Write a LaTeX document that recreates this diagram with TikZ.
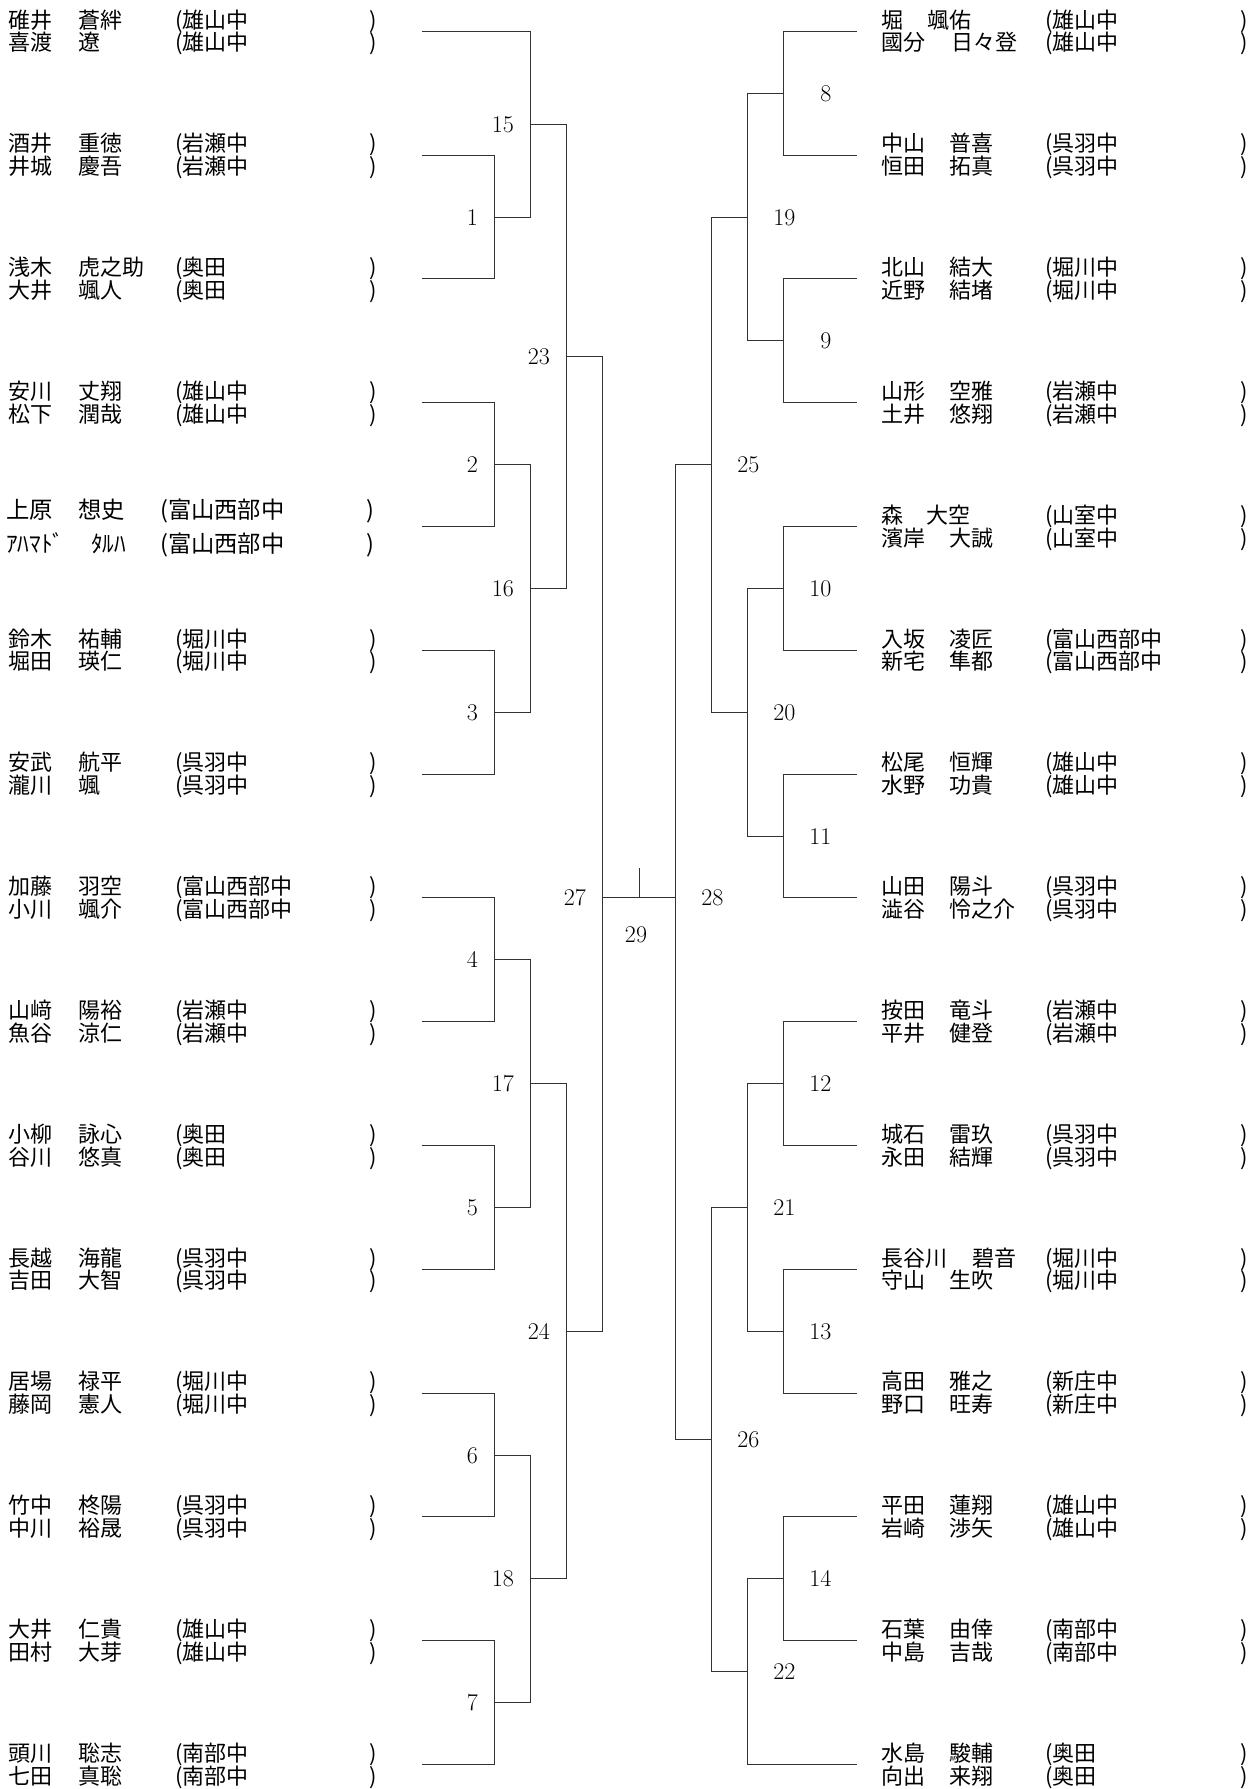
\documentclass[tikz,border=0pt]{standalone}
\usepackage{fontspec}
\newfontfamily\jp{Noto Sans CJK JP}
\newcommand\Yr[1]{30.8+123.8*(#1)}
\newcommand\Ys[1]{round(30.8+123.8*(#1))+0.5}
% player line: #1 name, #2 row, #3 offset, #4 family, #5 given x, #6 given, #7 school
\newcommand\LP[7]{%
  \node[nm] (#1f) at (8,{\Yr{#2}+#3+8.6}) {#4};
  \node[nm] (#1g) at (#5,{\Yr{#2}+#3+8.6}) {#6};
  \node[nm] (#1s) at (175,{\Yr{#2}+#3+8.6}) {(#7};
  \node[nm,anchor=base east] (#1c) at (377,{\Yr{#2}+#3+8.6}) {)};
}
\newcommand\RP[7]{%
  \node[nm] (#1f) at (881,{\Yr{#2}+#3+8.6}) {#4};
  \node[nm] (#1g) at (#5,{\Yr{#2}+#3+8.6}) {#6};
  \node[nm] (#1s) at (1045,{\Yr{#2}+#3+8.6}) {(#7};
  \node[nm,anchor=base east] (#1c) at (1248,{\Yr{#2}+#3+8.6}) {)};
}
\begin{document}
\begin{tikzpicture}[x=1pt,y=-1pt,
  nm/.style={anchor=base west,inner sep=0pt,font=\jp\fontsize{22}{22}\selectfont},
  nmb/.style={nm,font=\jp\fontsize{23.3}{23.3}\selectfont},
  br/.style={draw=black!80,line width=1pt},
  lblL/.style={inner sep=0pt,anchor=east,xshift=-16.5pt,font=\fontsize{24}{24}\selectfont},
  lblR/.style={inner sep=0pt,anchor=east,xshift=48pt,font=\fontsize{24}{24}\selectfont}]
\fill[white] (0,0) rectangle (1257,1789);
\useasboundingbox (0,0) rectangle (1257,1789);

% ---------------- left players ----------------
\LP{a0}{0}{-11.4}{碓井}{78}{蒼絆}{雄山中}
\LP{b0}{0}{11.4}{喜渡}{78}{遼}{雄山中}
\LP{a1}{1}{-11.4}{酒井}{78}{重徳}{岩瀬中}
\LP{b1}{1}{11.4}{井城}{78}{慶吾}{岩瀬中}
\LP{a2}{2}{-11.4}{浅木}{78}{虎之助}{奥田}
\LP{b2}{2}{11.4}{大井}{78}{颯人}{奥田}
\LP{a3}{3}{-11.4}{安川}{78}{丈翔}{雄山中}
\LP{b3}{3}{11.4}{松下}{78}{潤哉}{雄山中}
% row 4 (special)
\node[nmb] (a4f) at (6,{\Yr{4}-16.1+9}) {上原};
\node[nmb] (a4g) at (78,{\Yr{4}-16.1+9}) {想史};
\node[nmb] (a4s) at (160,{\Yr{4}-16.1+9}) {(富山西部中};
\node[nmb,anchor=base east] (a4c) at (375,{\Yr{4}-16.1+9}) {)};
\node[nmb] (b4f) at (6,{\Yr{4}+17+9}) {ｱﾊﾏﾄﾞ};
\node[nmb] (b4g) at (91,{\Yr{4}+17+9}) {ﾀﾙﾊ};
\node[nmb] (b4s) at (160,{\Yr{4}+17+9}) {(富山西部中};
\node[nmb,anchor=base east] (b4c) at (375,{\Yr{4}+17+9}) {)};
\LP{a5}{5}{-11.4}{鈴木}{78}{祐輔}{堀川中}
\LP{b5}{5}{11.4}{堀田}{78}{瑛仁}{堀川中}
\LP{a6}{6}{-11.4}{安武}{78}{航平}{呉羽中}
\LP{b6}{6}{11.4}{瀧川}{78}{颯}{呉羽中}
\LP{a7}{7}{-11.4}{加藤}{78}{羽空}{富山西部中}
\LP{b7}{7}{11.4}{小川}{78}{颯介}{富山西部中}
\LP{a8}{8}{-11.4}{山﨑}{78}{陽裕}{岩瀬中}
\LP{b8}{8}{11.4}{魚谷}{78}{涼仁}{岩瀬中}
\LP{a9}{9}{-11.4}{小柳}{78}{詠心}{奥田}
\LP{b9}{9}{11.4}{谷川}{78}{悠真}{奥田}
\LP{a10}{10}{-11.4}{長越}{78}{海龍}{呉羽中}
\LP{b10}{10}{11.4}{吉田}{78}{大智}{呉羽中}
\LP{a11}{11}{-11.4}{居場}{78}{禄平}{堀川中}
\LP{b11}{11}{11.4}{藤岡}{78}{憲人}{堀川中}
\LP{a12}{12}{-11.4}{竹中}{78}{柊陽}{呉羽中}
\LP{b12}{12}{11.4}{中川}{78}{裕晟}{呉羽中}
\LP{a13}{13}{-11.4}{大井}{78}{仁貴}{雄山中}
\LP{b13}{13}{11.4}{田村}{78}{大芽}{雄山中}
\LP{a14}{14}{-11.4}{頭川}{78}{聡志}{南部中}
\LP{b14}{14}{11.4}{七田}{78}{真聡}{南部中}

% ---------------- right players ----------------
\RP{c0}{0}{-11.4}{堀}{927}{颯佑}{雄山中}
\RP{d0}{0}{11.4}{國分}{951}{日々登}{雄山中}
\RP{c1}{1}{-11.4}{中山}{949}{普喜}{呉羽中}
\RP{d1}{1}{11.4}{恒田}{949}{拓真}{呉羽中}
\RP{c2}{2}{-11.4}{北山}{949}{結大}{堀川中}
\RP{d2}{2}{11.4}{近野}{949}{結堵}{堀川中}
\RP{c3}{3}{-11.4}{山形}{949}{空雅}{岩瀬中}
\RP{d3}{3}{11.4}{土井}{949}{悠翔}{岩瀬中}
\RP{c4}{4}{-11.4}{森}{926}{大空}{山室中}
\RP{d4}{4}{11.4}{濱岸}{949}{大誠}{山室中}
\RP{c5}{5}{-11.4}{入坂}{949}{凌匠}{富山西部中}
\RP{d5}{5}{11.4}{新宅}{949}{隼都}{富山西部中}
\RP{c6}{6}{-11.4}{松尾}{949}{恒輝}{雄山中}
\RP{d6}{6}{11.4}{水野}{949}{功貴}{雄山中}
\RP{c7}{7}{-11.4}{山田}{949}{陽斗}{呉羽中}
\RP{d7}{7}{11.4}{澁谷}{949}{怜之介}{呉羽中}
\RP{c8}{8}{-11.4}{按田}{949}{竜斗}{岩瀬中}
\RP{d8}{8}{11.4}{平井}{949}{健登}{岩瀬中}
\RP{c9}{9}{-11.4}{城石}{949}{雷玖}{呉羽中}
\RP{d9}{9}{11.4}{永田}{949}{結輝}{呉羽中}
\RP{c10}{10}{-11.4}{長谷川}{972}{碧音}{堀川中}
\RP{d10}{10}{11.4}{守山}{949}{生吹}{堀川中}
\RP{c11}{11}{-11.4}{高田}{949}{雅之}{新庄中}
\RP{d11}{11}{11.4}{野口}{949}{旺寿}{新庄中}
\RP{c12}{12}{-11.4}{平田}{949}{蓮翔}{雄山中}
\RP{d12}{12}{11.4}{岩崎}{949}{渉矢}{雄山中}
\RP{c13}{13}{-11.4}{石葉}{949}{由倖}{南部中}
\RP{d13}{13}{11.4}{中島}{949}{吉哉}{南部中}
\RP{c14}{14}{-11.4}{水島}{949}{駿輔}{奥田}
\RP{d14}{14}{11.4}{向出}{949}{来翔}{奥田}

% ---------------- bracket coordinates ----------------
\foreach \i in {0,...,14}{
  \coordinate (L\i) at (421.5,{\Ys{\i}});
  \coordinate (R\i) at (856.5,{\Ys{\i}});
}
\coordinate (m1) at (494.5,{\Ys{1.5}});
\coordinate (m2) at (494.5,{\Ys{3.5}});
\coordinate (m3) at (494.5,{\Ys{5.5}});
\coordinate (m4) at (494.5,{\Ys{7.5}});
\coordinate (m5) at (494.5,{\Ys{9.5}});
\coordinate (m6) at (494.5,{\Ys{11.5}});
\coordinate (m7) at (494.5,{\Ys{13.5}});
\coordinate (m15) at (530.5,{\Ys{0.75}});
\coordinate (m16) at (530.5,{\Ys{4.5}});
\coordinate (m17) at (530.5,{\Ys{8.5}});
\coordinate (m18) at (530.5,{\Ys{12.5}});
\coordinate (m23) at (566.5,{\Ys{2.625}});
\coordinate (m24) at (566.5,{\Ys{10.5}});
\coordinate (m27) at (602.5,{\Ys{7}});
\coordinate (m8) at (783.5,{\Ys{0.5}});
\coordinate (m9) at (783.5,{\Ys{2.5}});
\coordinate (m10) at (783.5,{\Ys{4.5}});
\coordinate (m11) at (783.5,{\Ys{6.5}});
\coordinate (m12) at (783.5,{\Ys{8.5}});
\coordinate (m13) at (783.5,{\Ys{10.5}});
\coordinate (m14) at (783.5,{\Ys{12.5}});
\coordinate (m19) at (747.5,{\Ys{1.5}});
\coordinate (m20) at (747.5,{\Ys{5.5}});
\coordinate (m21) at (747.5,{\Ys{9.5}});
\coordinate (m22) at (747.5,{\Ys{13.25}});
\coordinate (m25) at (711.5,{\Ys{3.5}});
\coordinate (m26) at (711.5,{\Ys{11.375}});
\coordinate (m28) at (675.5,{\Ys{7}});
\coordinate (m29) at (639.5,{\Ys{7}});
\coordinate (m29top) at (639.5,868);

% ---------------- bracket lines ----------------
% left
\draw[br] (L1) -| (m1) |- (L2);
\draw[br] (L3) -| (m2) |- (L4);
\draw[br] (L5) -| (m3) |- (L6);
\draw[br] (L7) -| (m4) |- (L8);
\draw[br] (L9) -| (m5) |- (L10);
\draw[br] (L11) -| (m6) |- (L12);
\draw[br] (L13) -| (m7) |- (L14);
\draw[br] (L0) -| (m15) |- (m1);
\draw[br] (m2) -| (m16) |- (m3);
\draw[br] (m4) -| (m17) |- (m5);
\draw[br] (m6) -| (m18) |- (m7);
\draw[br] (m15) -| (m23) |- (m16);
\draw[br] (m17) -| (m24) |- (m18);
\draw[br] (m23) -| (m27) |- (m24);
% right
\draw[br] (R0) -| (m8) |- (R1);
\draw[br] (R2) -| (m9) |- (R3);
\draw[br] (R4) -| (m10) |- (R5);
\draw[br] (R6) -| (m11) |- (R7);
\draw[br] (R8) -| (m12) |- (R9);
\draw[br] (R10) -| (m13) |- (R11);
\draw[br] (R12) -| (m14) |- (R13);
\draw[br] (m8) -| (m19) |- (m9);
\draw[br] (m10) -| (m20) |- (m11);
\draw[br] (m12) -| (m21) |- (m13);
\draw[br] (m14) -| (m22) |- (R14);
\draw[br] (m19) -| (m25) |- (m20);
\draw[br] (m21) -| (m26) |- (m22);
\draw[br] (m25) -| (m28) |- (m26);
% final
\draw[br] (m27) -- (m28);
\draw[br] (m29) -- (m29top);

% ---------------- match numbers ----------------
\foreach \k in {1,2,3,4,5,6,7,15,16,17,18,23,24,27}{
  \node[lblL] (t\k) at (m\k) {\k};
}
\foreach \k in {8,9,10,11,12,13,14,19,20,21,22,25,26,28}{
  \node[lblR] (t\k) at (m\k) {\k};
}
\node[inner sep=0pt,font=\fontsize{24}{24}\selectfont] (t29) at (636,935) {29};
\end{tikzpicture}
\end{document}
